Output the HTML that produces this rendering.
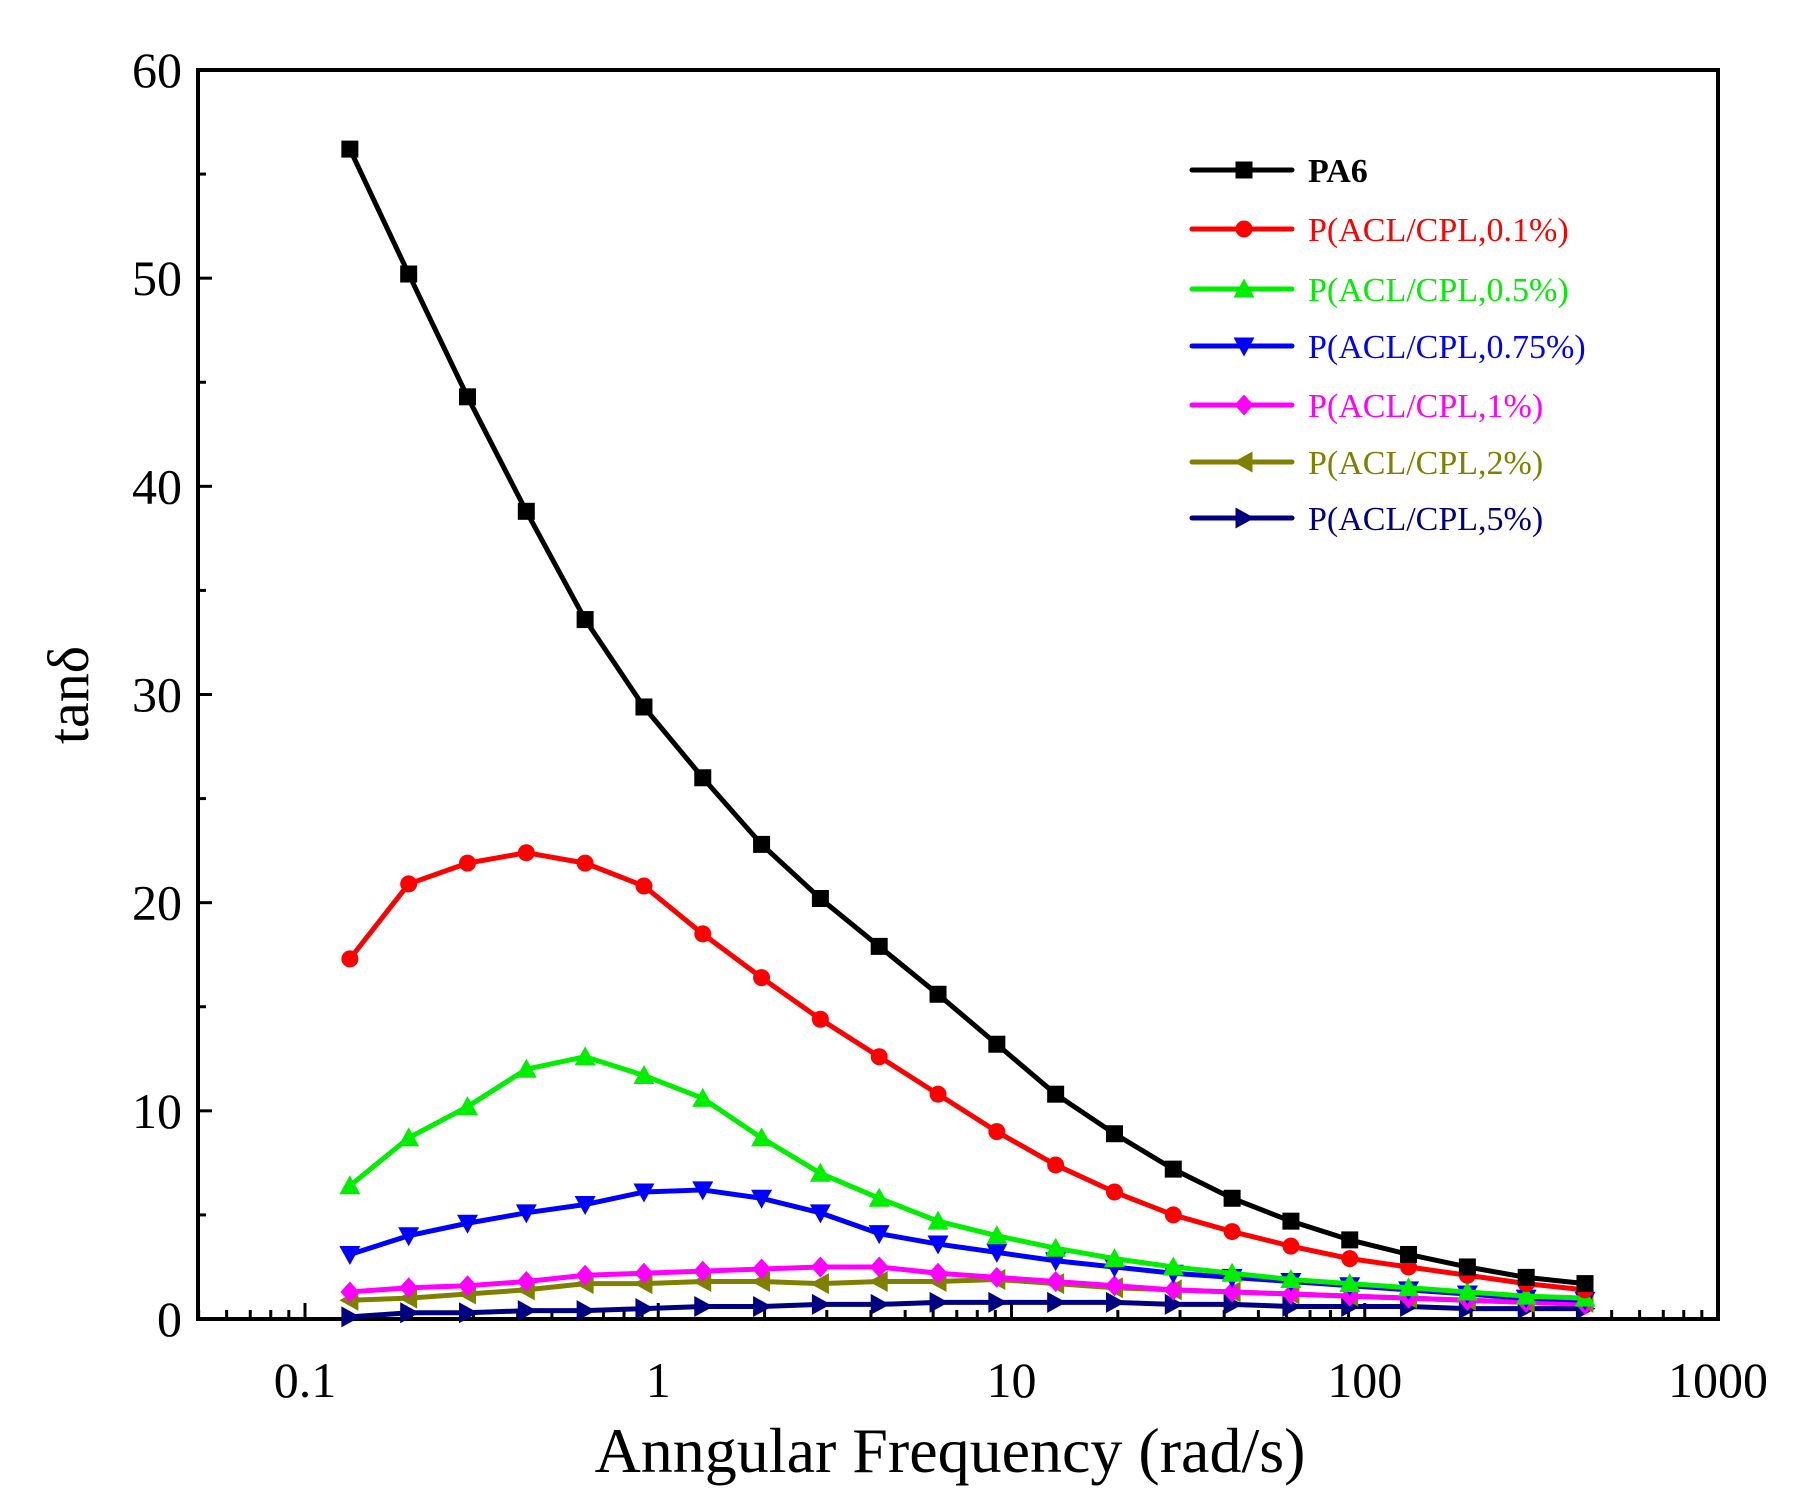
<!DOCTYPE html>
<html><head><meta charset="utf-8"><style>
html,body{margin:0;padding:0;background:#fff;}
svg{display:block;}
text{font-family:"Liberation Serif",serif;}
</style></head><body>
<svg id="chart" width="1811" height="1511" viewBox="0 0 1811 1511" xmlns="http://www.w3.org/2000/svg">
<g id="axes"></g>
<g id="series"></g>
<g id="legend"></g>
</svg>
<script>
const logXStart = -0.873;
const logXStep = 0.1665;
const seriesNames = ["PA6","P(ACL/CPL,0.1%)","P(ACL/CPL,0.5%)","P(ACL/CPL,0.75%)","P(ACL/CPL,1%)","P(ACL/CPL,2%)","P(ACL/CPL,5%)"];
const pa6 = [56.2,50.2,44.3,38.8,33.6,29.4,26.0,22.8,20.2,17.9,15.6,13.2,10.8,8.9,7.2,5.8,4.7,3.8,3.1,2.5,2.0,1.7];
const acl01 = [17.3,20.9,21.9,22.4,21.9,20.8,18.5,16.4,14.4,12.6,10.8,9.0,7.4,6.1,5.0,4.2,3.5,2.9,2.5,2.1,1.7,1.4];
const acl05 = [6.4,8.7,10.2,12.0,12.6,11.7,10.6,8.7,7.0,5.8,4.7,4.0,3.4,2.9,2.5,2.2,1.9,1.7,1.5,1.3,1.1,1.0];
const acl075 = [3.1,4.0,4.6,5.1,5.5,6.1,6.2,5.8,5.1,4.1,3.6,3.2,2.8,2.5,2.2,2.0,1.8,1.6,1.4,1.2,1.0,0.9];
const acl1 = [1.3,1.5,1.6,1.8,2.1,2.2,2.3,2.4,2.5,2.5,2.2,2.0,1.8,1.6,1.4,1.3,1.2,1.1,1.0,0.9,0.8,0.7];
const acl2 = [0.9,1.0,1.2,1.4,1.7,1.7,1.8,1.8,1.7,1.8,1.8,1.9,1.7,1.5,1.4,1.3,1.2,1.1,1.0,0.9,0.8,0.8];
const acl5 = [0.1,0.3,0.3,0.4,0.4,0.5,0.6,0.6,0.7,0.7,0.8,0.8,0.8,0.8,0.7,0.7,0.6,0.6,0.6,0.5,0.5,0.5];
const xTickLabels = ["0.1","1","10","100","1000"];
const xTickValues = [0.1,1,10,100,1000];
const yTickLabels = ["0","10","20","30","40","50","60"];
const yTickValues = [0,10,20,30,40,50,60];

const NS="http://www.w3.org/2000/svg";
const L=198,R=1718,T=70,B=1319;
const xMinLog=-1-(305-198)/353.25, xMaxLog=3;
function xs(v){return L+(Math.log10(v)-xMinLog)/(xMaxLog-xMinLog)*(R-L);}
function ys(v){return B-(v/60)*(B-T);}
function mk(tag,attrs,parent){const e=document.createElementNS(NS,tag);for(const k in attrs)e.setAttribute(k,attrs[k]);parent.appendChild(e);return e;}
const axes=document.getElementById('axes');
const frame=mk('rect',{x:L,y:T,width:R-L,height:B-T,fill:'none',stroke:'#000','stroke-width':4},axes);


for(let v=0;v<=60;v+=5){
  const len=(v%10===0)?14:8;
  const t=mk('line',{x1:L,x2:L+len,y1:ys(v),y2:ys(v),stroke:'#000','stroke-width':3},axes);
  
  
}
yTickValues.forEach((v,i)=>{
  const t=mk('text',{x:L-16,y:ys(v)+17,'text-anchor':'end','font-size':50,fill:'#000'},axes);
  t.textContent=yTickLabels[i];
  
  
});
for(let d=-2;d<=3;d++){
  for(let m=1;m<=9;m++){
    const v=m*Math.pow(10,d);
    const lg=Math.log10(v);
    if(lg<xMinLog-1e-9||lg>xMaxLog+1e-9)continue;
    const len=(m===1)?16:9;
    const t=mk('line',{x1:xs(v),x2:xs(v),y1:B,y2:B-len,stroke:'#000','stroke-width':3},axes);
    
    
  }
}
xTickValues.forEach((v,i)=>{
  const t=mk('text',{x:xs(v),y:B+78,'text-anchor':'middle','font-size':50,fill:'#000'},axes);
  t.textContent=xTickLabels[i];
  
  
});
const xt=mk('text',{x:(L+R)/2-8,y:1472,'text-anchor':'middle','font-size':64,fill:'#000'},axes);
xt.textContent='Anngular Frequency (rad/s)';


const yt=mk('text',{x:0,y:0,'text-anchor':'middle','font-size':58,fill:'#000',transform:'translate(88,695) rotate(-90)'},axes);
yt.textContent='tanδ';



const allSeries=[pa6,acl01,acl05,acl075,acl1,acl2,acl5];
const colors=['#000000','#ff0000','#00ee00','#0000ff','#ff00ff','#808000','#000080'];
const shapes=['square','circle','up','down','diamond','left','right'];
const seriesKeys=['pa6','acl-0-1','acl-0-5','acl-0-75','acl-1','acl-2','acl-5'];
function marker(shape,x,y,c,parent){
  const s=8.5;
  if(shape==='square')return mk('rect',{x:x-s,y:y-s,width:2*s,height:2*s,fill:c},parent);
  if(shape==='circle')return mk('circle',{cx:x,cy:y,r:s,fill:c},parent);
  let p;
  if(shape==='up')p=[[x,y-s-2],[x-s-2,y+s],[x+s+2,y+s]];
  if(shape==='down')p=[[x,y+s+2],[x-s-2,y-s],[x+s+2,y-s]];
  if(shape==='left')p=[[x-s-2,y],[x+s,y-s-2],[x+s,y+s+2]];
  if(shape==='right')p=[[x+s+2,y],[x-s,y-s-2],[x-s,y+s+2]];
  if(shape==='diamond')p=[[x,y-s-2],[x+s+1,y],[x,y+s+2],[x-s-1,y]];
  return mk('polygon',{points:p.map(q=>q.join(',')).join(' '),fill:c},parent);
}
const sg=document.getElementById('series');
for(let si=allSeries.length-1;si>=0;si--){
  const vals=allSeries[si];
  const g=mk('g',{},sg);
  
  
  const pts=vals.map((v,i)=>[xs(Math.pow(10,logXStart+i*logXStep)),ys(v)]);
  const line=mk('polyline',{points:pts.map(p=>p.join(',')).join(' '),fill:'none',stroke:colors[si],'stroke-width':5,'stroke-linejoin':'round'},g);
  
  
  pts.forEach(p=>{
    const m=marker(shapes[si],p[0],p[1],colors[si],g);
    
    
  });
}
const lg=document.getElementById('legend');
const legendY=[170,229,289,346,405,462,518];
seriesNames.forEach((n,i)=>{
  const g=mk('g',{},lg);
  
  
  mk('line',{x1:1192,x2:1292,y1:legendY[i],y2:legendY[i],stroke:colors[i],'stroke-width':5,'stroke-linecap':'round'},g);
  marker(shapes[i],1244,legendY[i],colors[i],g);
  const t=mk('text',{x:1308,y:legendY[i]+12,'font-size':34,fill:colors[i],'font-weight':i===0?'bold':'normal'},g);
  t.textContent=n;
});
</script>
</body></html>
